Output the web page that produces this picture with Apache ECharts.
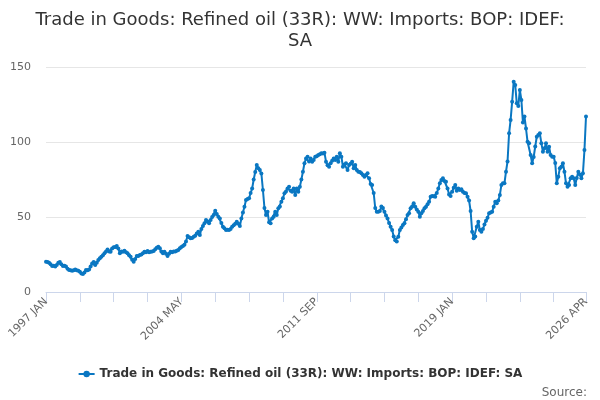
<!DOCTYPE html>
<html>
<head>
<meta charset="utf-8">
<script src="https://cdn.jsdelivr.net/npm/echarts@6/dist/echarts.min.js"></script>
<style>
html,body{margin:0;padding:0;background:#fff;}
#chart{width:600px;height:400px;}
</style>
</head>
<body>
<div id="chart"></div>
<script>
const seriesName = 'Trade in Goods: Refined oil (33R): WW: Imports: BOP: IDEF: SA';
const startYear = 1997;
const monthNames = ['JAN','FEB','MAR','APR','MAY','JUN','JUL','AUG','SEP','OCT','NOV','DEC'];
// monthly values, 1997 JAN .. 2026 APR
const imports = [
  20.2, 20, 19.5, 18.5, 17.3, 17.5, 17, 18, 19.5, 20, 18.5, 17.3,
  17.5, 17, 15.5, 14.7, 14.5, 14.2, 14.5, 15, 14.5, 14.2, 13.5, 12.4,
  12, 13, 14.7, 14.5, 15, 17, 19, 20, 18, 19.5, 21.3, 22.5,
  23.5, 24.5, 25.8, 27, 28.4, 27, 26.9, 29, 29.8, 30, 30.7, 29,
  25.8, 27, 26.9, 27.5, 26.5, 25.8, 24.5, 23.5, 21.5, 20.2, 22, 24,
  24, 24.7, 25, 25.8, 26.9, 26.5, 27.3, 26.5, 26.9, 27, 27.3, 28.5,
  29.5, 30.2, 29.1, 27, 25.8, 26.9, 25.5, 24, 25.5, 26.9, 26.5, 27,
  27, 27.5, 28, 29.1, 30, 30.7, 31.5, 33.6, 37.3, 36.5, 35.8, 36,
  36.9, 37.5, 39, 40.2, 38, 42, 44, 45.8, 48, 47, 45.8, 48,
  50, 51.3, 54.2, 52, 50.2, 49, 46, 43.5, 42.5, 41.3, 41.5, 41.3,
  42, 43.5, 44.5, 45.5, 46.9, 45.5, 44, 49, 53, 56.9, 61.3, 62,
  62.5, 66, 69, 75, 80, 84.7, 82.5, 81.3, 79, 68, 56, 51.3,
  53.5, 46.5, 45.8, 49, 50.2, 53.5, 51.3, 55.8, 57, 60.2, 62.5, 65.8,
  67, 69, 70.2, 67.5, 66.9, 69, 64.7, 69, 66.9, 70.2, 75, 80.2,
  85.8, 89, 90.2, 87, 89, 86.9, 88, 90.2, 90.5, 91.3, 91.8, 92.5,
  92.3, 92.9, 86.9, 84.5, 83.5, 85.8, 87.5, 89, 88, 90.2, 86.9, 92.5,
  90.2, 83.5, 85, 85.8, 81.3, 84.7, 85.5, 86.9, 82.5, 84.7, 81.3, 80.2,
  80, 79.1, 78, 76.9, 78, 79.1, 75.8, 72, 71.3, 66, 56, 53.5,
  53.5, 54, 57, 56, 53.5, 51, 49, 46, 43.5, 41.3, 37, 34.5,
  33.6, 36.9, 41.3, 43, 44.7, 45.8, 48.5, 51.3, 52.5, 55.8, 57, 59.1,
  56.9, 55, 53.5, 50.2, 52.5, 54, 55.8, 56.9, 58.5, 60.2, 63.5, 64,
  63.8, 63.5, 66, 69, 72.5, 74.7, 75.8, 74, 73.5, 69, 65, 64,
  66.9, 69.5, 71.3, 67.5, 69, 68, 68.5, 66.9, 66, 65.8, 63.5, 61,
  54, 40.2, 35.8, 37, 43.5, 46.9, 41.3, 40.2, 42, 45, 47.5, 49.5,
  52.5, 53, 53.5, 56.9, 60.2, 59.1, 61, 64.7, 71.3, 72.5, 72.5, 80.2,
  87, 105.8, 114.7, 126.9, 140.2, 138, 125.8, 124, 134.7, 128, 113, 117,
  109, 100.2, 99.1, 91.3, 85.8, 90, 97, 103.5, 104.7, 105.8, 99.1, 93.5,
  95.8, 99.1, 93.5, 96.9, 91.3, 90.2, 90.2, 86, 72.5, 76.9, 82.5, 83.5,
  85.8, 80.2, 72.5, 70.2, 71.3, 75.8, 76.9, 75.8, 71.3, 76, 80.2, 78.3,
  75.8, 79.1, 94.7, 117
];
const categories = imports.map((_, i) => (startYear + Math.floor(i / 12)) + ' ' + monthNames[i % 12]);
const tickIdx = [0, 22, 44, 66, 88, 110, 132, 154, 176, 198, 220, 242, 264, 286, 308, 330, 351];
const labelIdx = [0, 88, 176, 264, 351];
const yTicks = { min: 0, max: 150, interval: 50 };

const FONT = 'DejaVu Sans';
const chart = echarts.init(document.getElementById('chart'), null, { renderer: 'canvas' });
chart.setOption({
  animation: false,
  backgroundColor: '#ffffff',
  title: [
    {
      text: 'Trade in Goods: Refined oil (33R): WW: Imports: BOP: IDEF:\nSA',
      left: 'center',
      top: 5,
      textStyle: { fontFamily: FONT, fontSize: 18, fontWeight: 'normal', color: '#333333', lineHeight: 21 }
    },
    {
      text: 'Source:',
      right: 8,
      top: 382,
      textStyle: { fontFamily: FONT, fontSize: 12, fontWeight: 'normal', color: '#666666' }
    }
  ],
  legend: {
    data: [seriesName],
    left: 'center',
    top: 363,
    itemWidth: 16,
    itemHeight: 8,
    itemGap: 8,
    textStyle: { fontFamily: FONT, fontSize: 12, fontWeight: 'bold', color: '#333333' }
  },
  grid: { left: 46, right: 14, top: 67, bottom: 108, containLabel: false },
  xAxis: {
    type: 'category',
    data: categories,
    boundaryGap: false,
    axisLine: { lineStyle: { color: '#ccd6eb', width: 1 } },
    axisTick: {
      show: true,
      length: 10,
      interval: (idx) => tickIdx.includes(idx),
      lineStyle: { color: '#ccd6eb' }
    },
    axisLabel: {
      interval: (idx) => labelIdx.includes(idx),
      rotate: 45,
      margin: 8,
      fontFamily: FONT,
      fontSize: 11,
      color: '#666666'
    },
    splitLine: { show: false }
  },
  yAxis: {
    type: 'value',
    min: yTicks.min,
    max: yTicks.max,
    interval: yTicks.interval,
    axisLine: { show: false },
    axisTick: { show: false },
    axisLabel: { fontFamily: FONT, fontSize: 11, color: '#666666', margin: 15 },
    splitLine: { lineStyle: { color: '#e6e6e6', width: 1 } }
  },
  series: [
    {
      name: seriesName,
      type: 'line',
      data: imports,
      smooth: false,
      symbol: 'circle',
      symbolSize: 4,
      showSymbol: true,
      showAllSymbol: true,
      lineStyle: { color: '#0a77c2', width: 2 },
      itemStyle: { color: '#0a77c2' }
    }
  ]
});
</script>
</body>
</html>
